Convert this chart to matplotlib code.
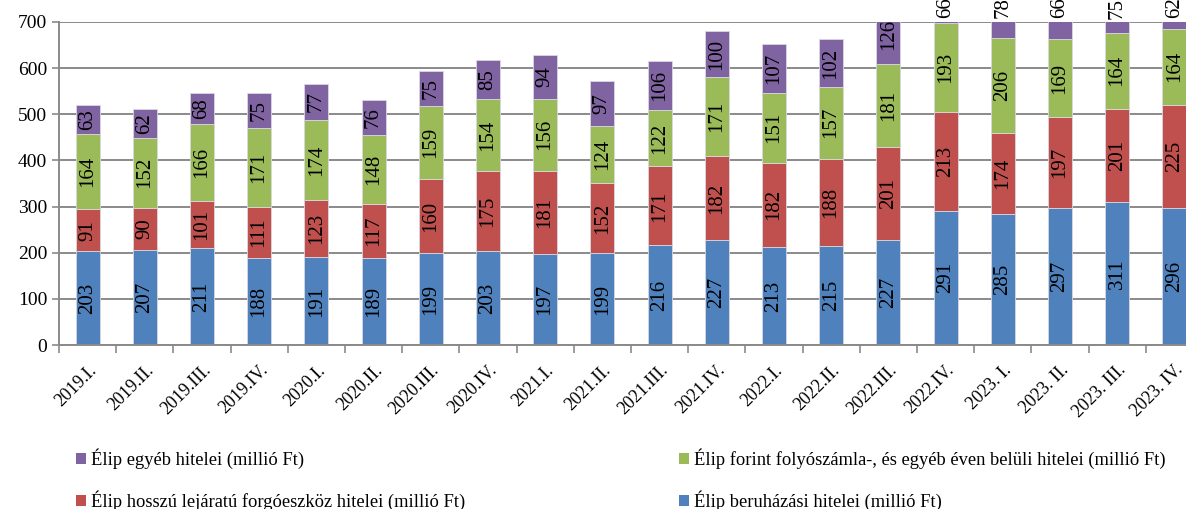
import numpy as np
import matplotlib
matplotlib.use("Agg")
import matplotlib.pyplot as plt
from matplotlib.patches import Patch

plt.rcParams["font.family"] = ["Liberation Serif", "DejaVu Serif"]

QUARTERS = ["2019.I.", "2019.II.", "2019.III.", "2019.IV.",
            "2020.I.", "2020.II.", "2020.III.", "2020.IV.",
            "2021.I.", "2021.II.", "2021.III.", "2021.IV.",
            "2022.I.", "2022.II.", "2022.III.", "2022.IV.",
            "2023. I.", "2023. II.", "2023. III.", "2023. IV."]

beruhazasi = [203, 207, 211, 188, 191, 189, 199, 203, 197, 199,
              216, 227, 213, 215, 227, 291, 285, 297, 311, 296]
hosszu = [91, 90, 101, 111, 123, 117, 160, 175, 181, 152,
          171, 182, 182, 188, 201, 213, 174, 197, 201, 225]
forint = [164, 152, 166, 171, 174, 148, 159, 154, 156, 124,
          122, 171, 151, 157, 181, 193, 206, 169, 164, 164]
egyeb = [63, 62, 68, 75, 77, 76, 75, 85, 94, 97,
         106, 100, 107, 102, 126, 66, 78, 66, 75, 62]

SERIES = [
    ("Élip beruházási hitelei (millió Ft)", beruhazasi, "#4F81BD"),
    ("Élip hosszú lejáratú forgóeszköz hitelei (millió Ft)", hosszu, "#C0504D"),
    ("Élip forint folyószámla-, és egyéb éven belüli hitelei (millió Ft)", forint, "#9BBB59"),
    ("Élip egyéb hitelei (millió Ft)", egyeb, "#8064A2"),
]

YMAX = 700

fig = plt.figure(figsize=(11.86, 5.09), dpi=100)
ax = fig.add_axes([0.0497, 0.322, 0.9646, 0.635])

x = np.arange(len(QUARTERS))
bottom = np.zeros(len(QUARTERS))
handles = {}
for name, vals, color in SERIES:
    vals = np.array(vals, dtype=float)
    ax.bar(x, vals, 0.42, bottom=bottom, color=color,
           edgecolor="#d8d8e0", linewidth=0.6, zorder=2)
    handles[name] = Patch(facecolor=color, label=name)
    for xi, b, v in zip(x, bottom, vals):
        top = b + v
        y = b + v / 2
        # labels of clipped segments that don't fit sit above the plot
        if top > YMAX and YMAX - b < 50:
            y = YMAX + 30
        ax.text(xi, y, f"{int(v)}", rotation=90, ha="center", va="center",
                fontsize=15, clip_on=False, zorder=3)
    bottom += vals

ax.set_xlim(-0.5, len(QUARTERS) - 0.5)
ax.set_ylim(0, YMAX)
ax.set_yticks(np.arange(0, 701, 100))
ax.yaxis.grid(True, color="#8a8a8a", linewidth=1.4, zorder=0)
ax.set_axisbelow(True)
ax.tick_params(axis="y", labelsize=14, length=5, color="#8a8a8a", width=1.2)

ax.set_xticks(x)
ax.set_xticklabels(QUARTERS, rotation=45, ha="right", rotation_mode="anchor",
                   fontsize=13)
ax.set_xticks(np.arange(len(QUARTERS) + 1) - 0.5, minor=True)
ax.tick_params(axis="x", which="major", length=0, pad=12)
ax.tick_params(axis="x", which="minor", length=6, color="#8a8a8a", width=1.2)

for s in ["top", "right"]:
    ax.spines[s].set_visible(False)
for s in ["left", "bottom"]:
    ax.spines[s].set_color("#8a8a8a")
    ax.spines[s].set_linewidth(1.4)

order = [SERIES[3][0], SERIES[1][0], SERIES[2][0], SERIES[0][0]]
fig.legend(handles=[handles[n] for n in order], ncol=2, loc="upper left",
           bbox_to_anchor=(0.053, 0.145), bbox_transform=fig.transFigure,
           frameon=False, fontsize=13.3, handlelength=0.55, handleheight=0.55,
           handletextpad=0.25, columnspacing=11.6, labelspacing=1.18,
           borderpad=0.2)

fig.savefig("out.png", dpi=100)
